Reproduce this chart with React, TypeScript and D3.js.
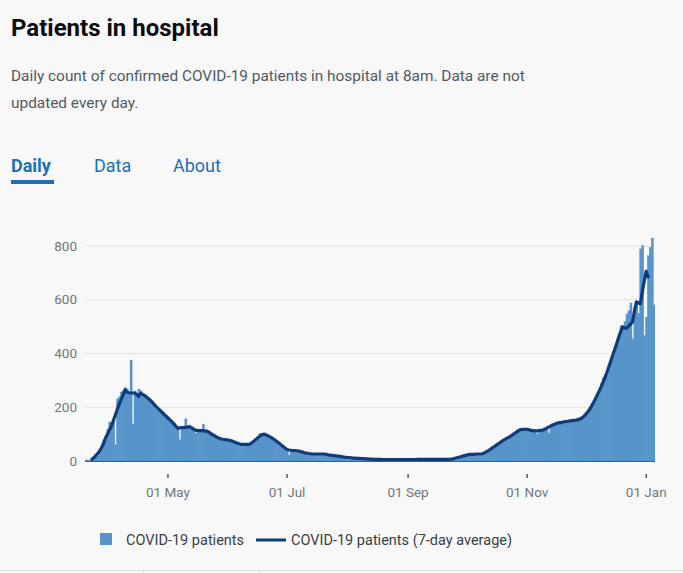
import React from 'react';
import * as d3 from 'd3';

// first reported day, bars are one per day from here
const startDate = '2020-03-20';
// the 7-day average is centred, so it starts 3 days after the first bar
const avgOffset = 3;

const dailyPatients = [
  5, 4, 2, 6, 10, 22, 20, 40, 52, 80,
  92, 118, 146, 130, 150, 62, 232, 240, 258, 262,
  274, 270, 258, 376, 138, 262, 245, 268, 262, 250,
  246, 241, 233, 229, 219, 213, 203, 197, 189, 185,
  175, 169, 159, 156, 147, 141, 131, 127, 80, 124,
  125, 158, 126, 129, 123, 119, 104, 115, 112, 113,
  138, 111, 112, 107, 104, 97, 94, 88, 87, 83,
  82, 81, 78, 79, 75, 74, 71, 69, 64, 63,
  61, 63, 60, 62, 65, 69, 77, 81, 91, 104,
  99, 102, 97, 96, 91, 88, 82, 79, 71, 67,
  59, 53, 44, 43, 22, 41, 39, 39, 37, 38,
  34, 33, 30, 30, 27, 28, 25, 27, 22, 26,
  27, 25, 26, 24, 23, 21, 22, 19, 19, 17,
  17, 15, 16, 13, 14, 12, 12, 11, 10, 10,
  9, 9, 8, 8, 7, 7, 7, 6, 6, 6,
  6, 5, 5, 6, 5, 5, 4, 5, 5, 5,
  5, 4, 5, 5, 6, 5, 5, 5, 6, 5,
  6, 6, 5, 6, 7, 6, 6, 6, 6, 7,
  6, 6, 7, 6, 6, 6, 7, 7, 9, 10,
  13, 14, 17, 18, 21, 22, 25, 24, 26, 25,
  27, 25, 26, 28, 31, 35, 38, 44, 48, 54,
  59, 62, 69, 74, 78, 83, 87, 91, 96, 101,
  106, 111, 116, 118, 119, 117, 119, 115, 113, 114,
  111, 100, 114, 113, 116, 119, 123, 105, 131, 135,
  138, 141, 143, 142, 145, 147, 148, 149, 150, 151,
  152, 153, 155, 157, 161, 168, 172, 185, 195, 208,
  220, 236, 250, 265, 290, 312, 318, 320, 340, 365,
  400, 420, 440, 470, 505, 500, 520, 548, 560, 589,
  455, 573, 590, 550, 790, 803, 468, 536, 765, 796,
  830, 582,
];

const sevenDayAverage = [
  6, 12, 20, 28, 37, 50, 65,
  85, 100, 115, 128, 150, 170, 192, 210, 228, 245,
  265, 256, 254, 253, 253, 252, 248, 240, 252, 248,
  244, 238, 232, 226, 218, 210, 202, 195, 188, 181,
  174, 167, 160, 153, 146, 138, 130, 122, 123, 124,
  124, 125, 126, 128, 124, 119, 115, 114, 113, 113,
  112, 112, 111, 107, 102, 97, 93, 89, 85, 83,
  81, 80, 79, 78, 76, 74, 71, 68, 65, 63,
  62, 62, 62, 62, 63, 68, 74, 80, 86, 92,
  97, 100, 98, 95, 91, 87, 82, 77, 71, 66,
  60, 54, 48, 43, 41, 40, 39, 39, 38, 37,
  35, 33, 31, 29, 28, 27, 26, 26, 26, 26,
  26, 26, 26, 25, 23, 22, 21, 20, 19, 18,
  17, 16, 15, 14, 13, 13, 12, 11, 11, 10,
  10, 9, 9, 8, 8, 7, 7, 7, 6, 6,
  6, 6, 5, 5, 5, 5, 5, 5, 5, 5,
  5, 5, 5, 5, 5, 5, 5, 5, 5, 5,
  6, 6, 6, 6, 6, 6, 6, 6, 6, 6,
  6, 6, 6, 6, 6, 6, 6, 7, 8, 10,
  12, 14, 16, 18, 20, 22, 24, 25, 25, 25,
  26, 26, 26, 27, 30, 34, 38, 43, 48, 53,
  58, 63, 68, 73, 78, 82, 86, 90, 95, 100,
  105, 110, 115, 117, 118, 118, 118, 116, 114, 113,
  112, 112, 113, 114, 115, 118, 122, 126, 130, 134,
  137, 140, 142, 143, 144, 146, 147, 148, 149, 150,
  151, 152, 154, 156, 160, 166, 173, 182, 192, 205,
  218, 232, 247, 262, 278, 295, 313, 332, 353, 375,
  397, 418, 440, 462, 484, 499, 495, 494, 502, 510,
  517, 560, 592, 588, 585, 630, 670, 706, 685,
];

const yTicks = [0, 200, 400, 600, 800];
const xTickDates = ['2020-05-01', '2020-07-01', '2020-09-01', '2020-11-01', '2021-01-01'];
const tabs = ['Daily', 'Data', 'About'];
const legendLabels = ['COVID-19 patients', 'COVID-19 patients (7-day average)'];

const font = 'Roboto, "Noto Sans", sans-serif';

export default function App() {
  const parse = d3.timeParse('%Y-%m-%d');
  const start = parse(startDate) as Date;
  const dates = dailyPatients.map((_, i) => d3.timeDay.offset(start, i));
  const last = dates[dates.length - 1];

  const x = d3
    .scaleTime()
    .domain([d3.timeHour.offset(start, -12), d3.timeHour.offset(last, 12)])
    .range([85, 655]);
  const y = d3.scaleLinear().domain([0, 800]).range([461, 246]);
  const bw = (655 - 85) / dailyPatients.length;

  const avgLine = d3
    .line<number>()
    .x((d, i) => x(dates[i + avgOffset]))
    .y((d) => y(d));

  const fmt = d3.timeFormat('%d %b');
  const tabX = [11, 94, 173];

  return (
    <div style={{ position: 'absolute', left: 0, top: 0, width: 683, height: 573, background: '#f8f8f8' }}>
      <svg width={683} height={573} style={{ display: 'block', fontFamily: font }}>
        <text x={11} y={36} fontSize={24} fontWeight={700} fill="#0b0c0c">
          Patients in hospital
        </text>
        <text x={11} y={81} fontSize={15.4} fill="#505a5f">
          Daily count of confirmed COVID-19 patients in hospital at 8am. Data are not
        </text>
        <text x={11} y={108} fontSize={15.4} fill="#505a5f">
          updated every day.
        </text>

        {tabs.map((t, i) => (
          <text key={t} x={tabX[i]} y={172} fontSize={18} fontWeight={i === 0 ? 700 : 400} fill="#1d70b8">
            {t}
          </text>
        ))}
        <rect x={11} y={180} width={43} height={4} fill="#1d70b8" />

        {/* grid + y labels */}
        {yTicks.map((t) => (
          <g key={t}>
            {t > 0 && <line x1={85} x2={655} y1={y(t)} y2={y(t)} stroke="#e6e6e6" />}
            <text x={77} y={y(t)} dy="0.35em" textAnchor="end" fontSize={13.5} fill="#6f777b">
              {t}
            </text>
          </g>
        ))}

        {/* bars, slightly overlapped so no seams show between days */}
        {dailyPatients.map((v, i) => (
          <rect
            key={i}
            x={x(dates[i]) - bw / 2}
            y={y(v)}
            width={i === dailyPatients.length - 1 ? bw : bw + 0.6}
            height={y(0) - y(v)}
            fill="#5694ca"
          />
        ))}

        <path
          d={avgLine(sevenDayAverage) || ''}
          fill="none"
          stroke="#0f3b7a"
          strokeWidth={3.2}
          strokeLinejoin="round"
          strokeLinecap="round"
        />

        <line x1={85} x2={655} y1={461.5} y2={461.5} stroke="#505a5f" strokeWidth={1.2} />

        {/* x axis */}
        {xTickDates.map((s) => {
          const d = parse(s) as Date;
          return (
            <g key={s} transform={`translate(${x(d)},0)`}>
              <line y1={474} y2={478} stroke="#0b0c0c" />
              <text y={497} textAnchor="middle" fontSize={13.5} fill="#6f777b">
                {fmt(d)}
              </text>
            </g>
          );
        })}

        {/* legend */}
        <rect x={100} y={533} width={12} height={12} fill="#5694ca" />
        <text x={126} y={545} fontSize={14.5} fill="#383f43">
          {legendLabels[0]}
        </text>
        <line x1={256} x2={286} y1={540} y2={540} stroke="#0f3b7a" strokeWidth={3} />
        <text x={291} y={545} fontSize={14.5} fill="#383f43">
          {legendLabels[1]}
        </text>

        {/* table header edge below */}
        <line x1={0} x2={683} y1={570.5} y2={570.5} stroke="#dcdcdc" />
        <line x1={143.5} x2={143.5} y1={570} y2={573} stroke="#dcdcdc" />
        <line x1={259.5} x2={259.5} y1={570} y2={573} stroke="#dcdcdc" />
      </svg>
    </div>
  );
}
